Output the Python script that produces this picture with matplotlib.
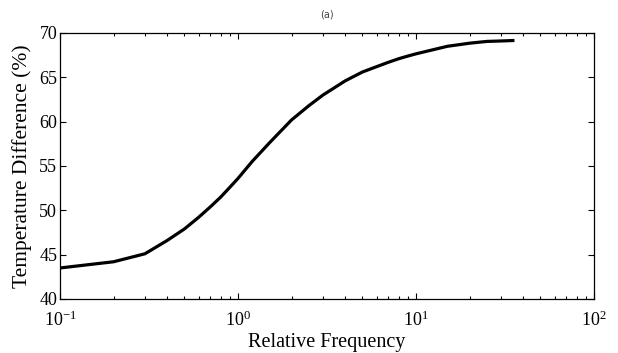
import numpy as np
import matplotlib
matplotlib.use("Agg")
import matplotlib.pyplot as plt
import matplotlib.ticker as ticker

# values
freq = [0.1, 0.2, 0.3, 0.4, 0.5, 0.6, 0.7, 0.8, 0.9, 1.0, 1.2, 1.5, 2.0, 2.5,
        3.0, 4.0, 5.0, 6.0, 7.0, 8.0, 9.0, 10.0, 15.0, 20.0, 25.0, 30.0, 35.0]
temp_diff = [43.5, 44.2, 45.1, 46.6, 47.9, 49.2, 50.4, 51.5, 52.6, 53.6, 55.5,
             57.6, 60.2, 61.8, 63.0, 64.6, 65.6, 66.2, 66.7, 67.1, 67.4, 67.65,
             68.5, 68.85, 69.05, 69.1, 69.15]

plt.rcParams['font.family'] = ['Liberation Serif', 'DejaVu Serif']
plt.rcParams['mathtext.fontset'] = 'custom'
plt.rcParams['mathtext.rm'] = 'Liberation Serif'
plt.rcParams['mathtext.it'] = 'Liberation Serif:italic'

fig = plt.figure(figsize=(6.18, 3.53), dpi=100)
ax = fig.add_axes([60/618, 1 - 299/353, 534/618, 266/353])

ax.plot(freq, temp_diff, color='black', linewidth=2.3)

ax.set_xscale('log')
ax.set_xlim(0.1, 100)
ax.set_ylim(40, 70)
ax.set_yticks([40, 45, 50, 55, 60, 65, 70])
ax.xaxis.set_major_formatter(ticker.LogFormatterMathtext())

ax.tick_params(which='both', direction='in', top=True, right=True,
               labelsize=13, width=0.8, colors='black')
ax.tick_params(which='major', length=4)
ax.tick_params(which='minor', length=2.5)
ax.tick_params(axis='y', pad=2)
ax.tick_params(axis='x', pad=8)
for s in ax.spines.values():
    s.set_linewidth(0.9)

ax.set_xlabel('Relative Frequency', fontsize=14.5, labelpad=2.5)
ax.set_ylabel('Temperature Difference (%)', fontsize=15.5, labelpad=5)
ax.set_title('(a)', fontsize=7, family='DejaVu Sans', color='#444444', pad=11)

fig.savefig('out.png', dpi=100)
